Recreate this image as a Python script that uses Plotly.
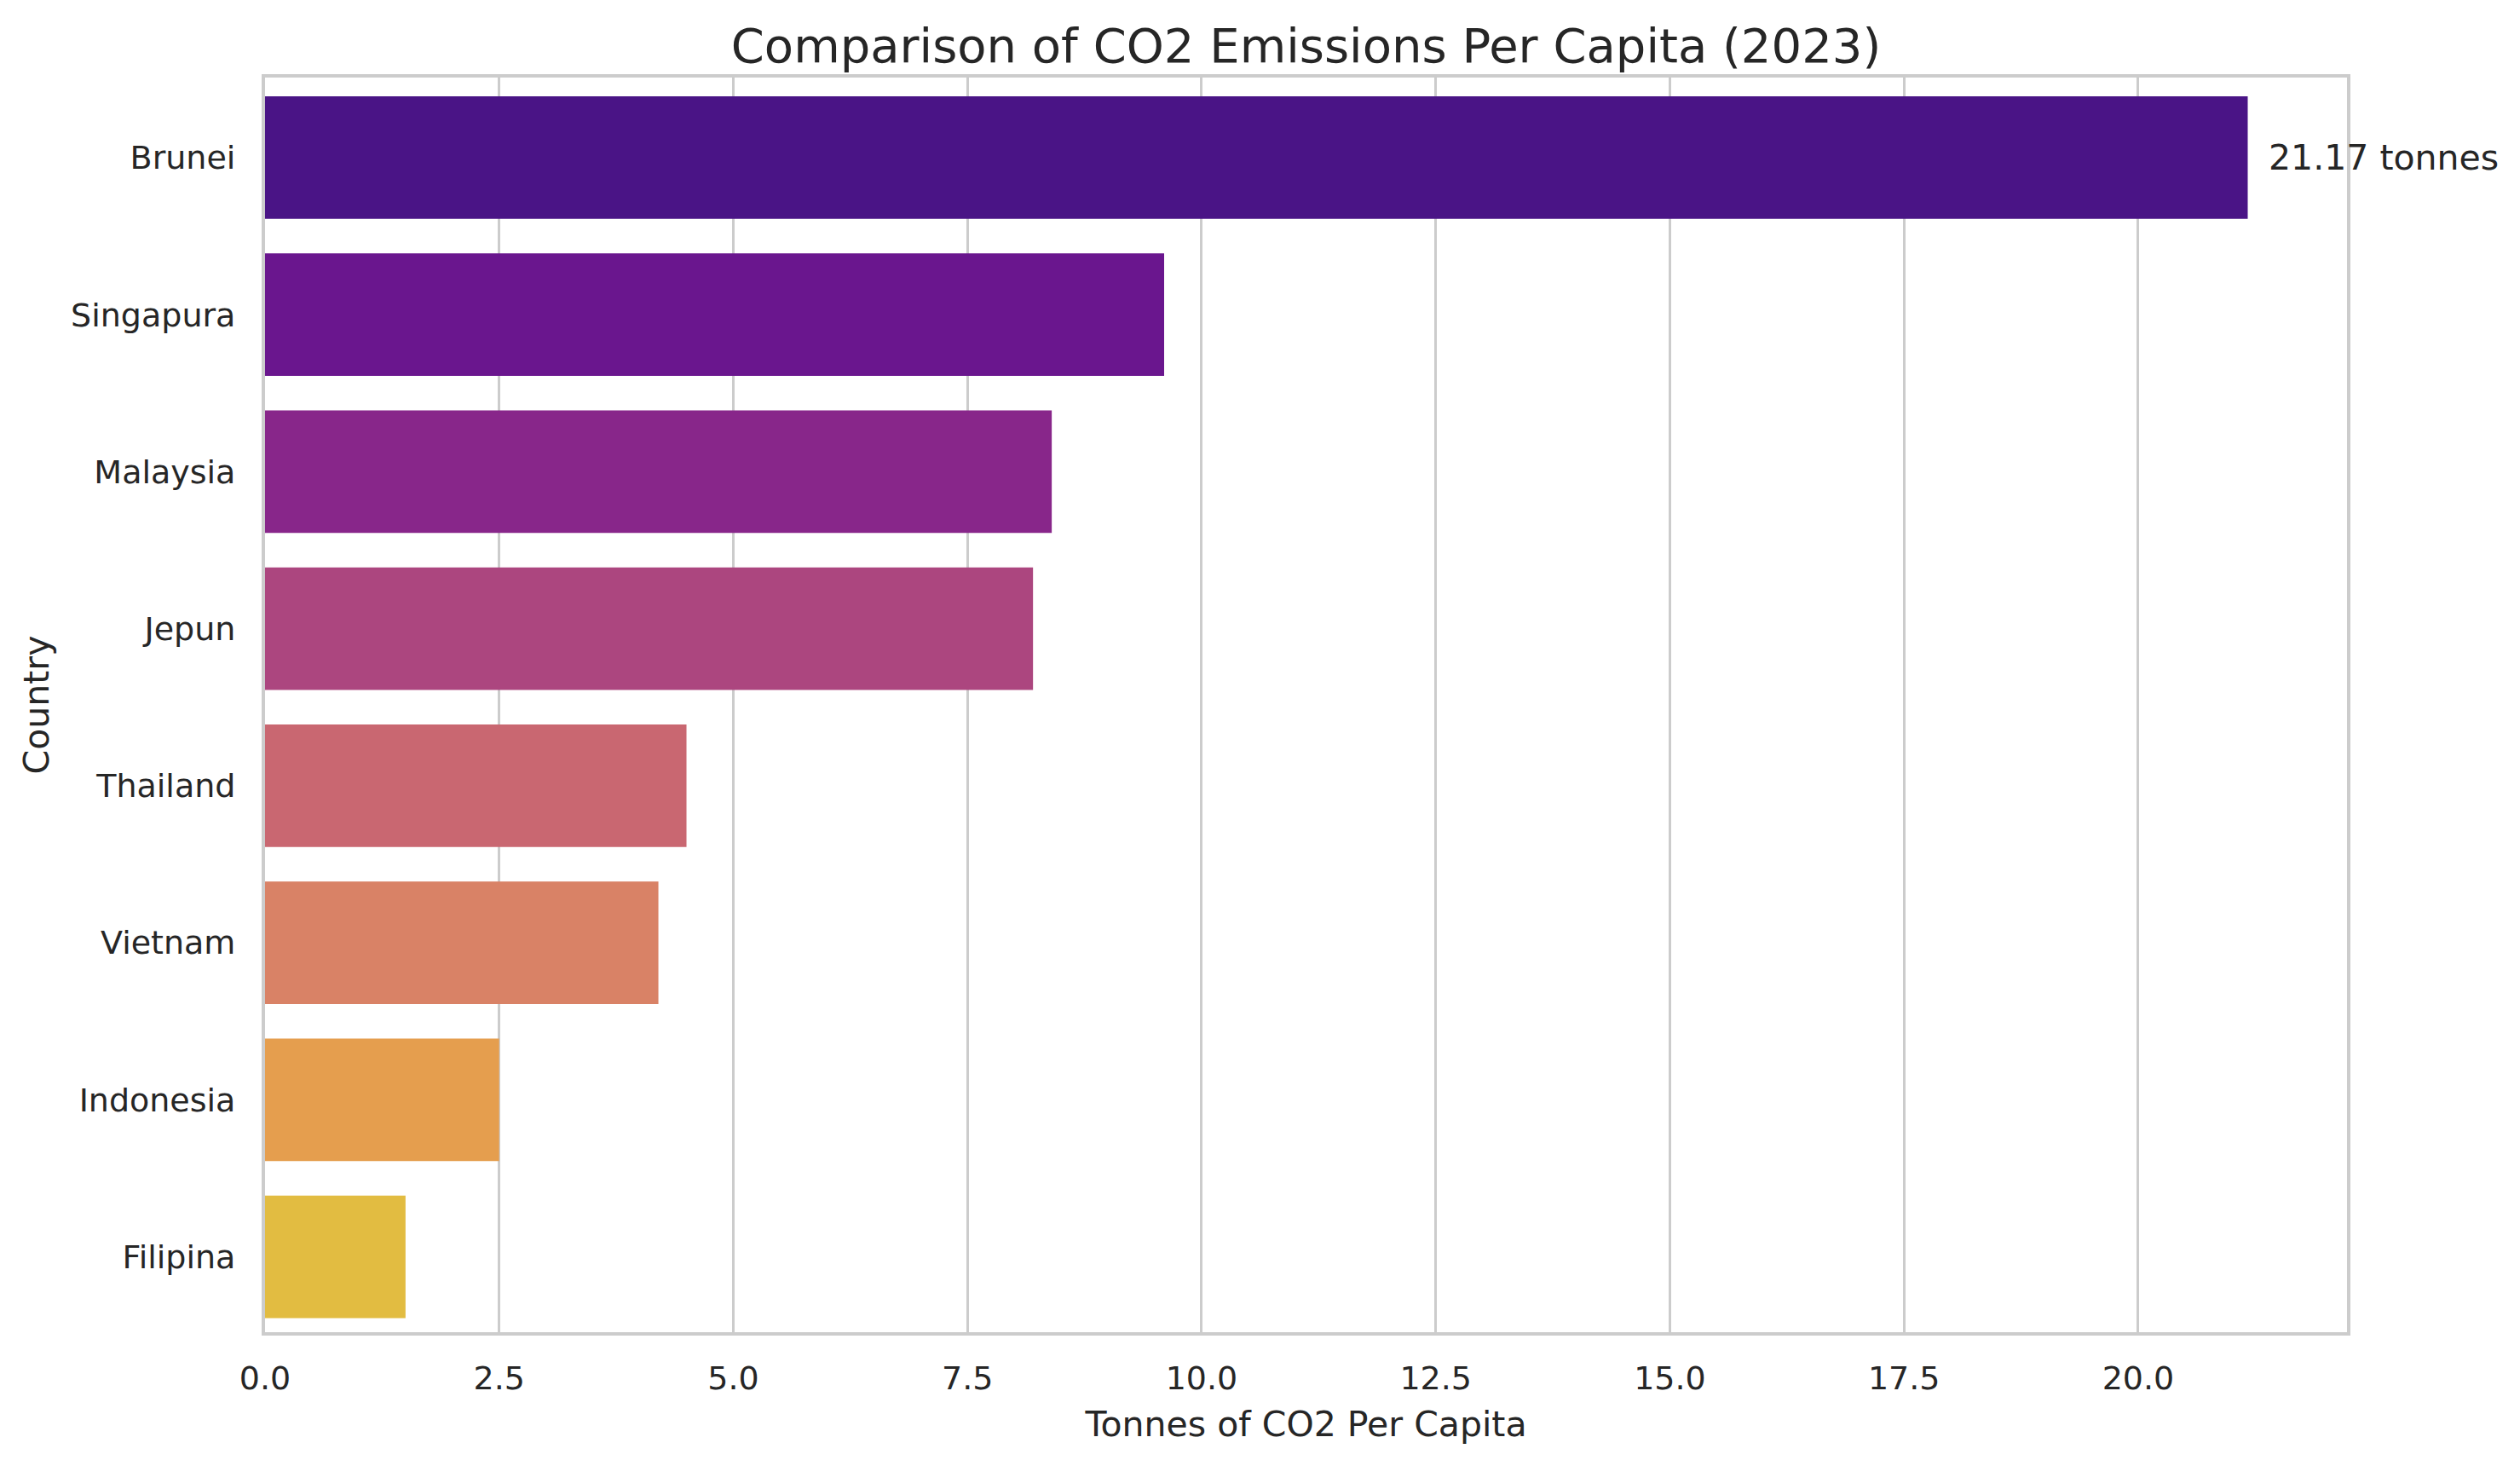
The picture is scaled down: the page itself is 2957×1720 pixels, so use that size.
import plotly.graph_objects as go

# ---- data ----
countries = ["Brunei", "Singapura", "Malaysia", "Jepun", "Thailand", "Vietnam", "Indonesia", "Filipina"]
co2_per_capita = [21.17, 9.6, 8.4, 8.2, 4.5, 4.2, 2.5, 1.5]
bar_colors = ["#4A1486", "#6A168E", "#88268A", "#AC467F", "#C96771", "#D98266", "#E59E4E", "#E2BC41"]
x_ticks = [0, 2.5, 5, 7.5, 10, 12.5, 15, 17.5, 20]
x_tick_labels = ["0.0", "2.5", "5.0", "7.5", "10.0", "12.5", "15.0", "17.5", "20.0"]

TEXT = "#262626"
GRID = "#cccccc"
FONT = "DejaVu Sans"

fig = go.Figure(
    go.Bar(
        x=co2_per_capita,
        y=countries,
        orientation="h",
        width=0.78,
        marker=dict(color=bar_colors, line=dict(width=0)),
        hoverinfo="x+y",
    )
)

# label on the largest bar
top_i = max(range(len(co2_per_capita)), key=lambda i: co2_per_capita[i])
fig.add_annotation(
    x=co2_per_capita[top_i], y=countries[top_i],
    text=f"{co2_per_capita[top_i]:.2f} tonnes",
    showarrow=False, xanchor="left", yanchor="middle", xshift=22,
    font=dict(family=FONT, size=41, color=TEXT),
)

fig.update_layout(
    template="none",
    width=2957, height=1720,
    margin=dict(l=311, r=203, t=91, b=157, autoexpand=False),
    paper_bgcolor="white", plot_bgcolor="white",
    font=dict(family=FONT, color=TEXT),
    showlegend=False,
    title=dict(
        text="Comparison of CO2 Emissions Per Capita (2023)",
        x=0.5, xref="paper", xanchor="center",
        y=1 - 53 / 1720, yref="container", yanchor="middle",
        font=dict(family=FONT, size=56, color=TEXT),
    ),
    xaxis=dict(
        range=[0, 22.23],
        tickvals=x_ticks, ticktext=x_tick_labels,
        tickfont=dict(family=FONT, size=38, color=TEXT),
        showgrid=True, gridcolor=GRID, gridwidth=3,
        zeroline=False,
        showline=True, linecolor=GRID, linewidth=4, mirror=True,
        ticks="", ticklabelstandoff=17,
        automargin=False,
        title=dict(text="Tonnes of CO2 Per Capita", font=dict(family=FONT, size=41, color=TEXT), standoff=20),
    ),
    yaxis=dict(
        categoryorder="array", categoryarray=countries,
        range=[len(countries) - 0.52, -0.51],
        tickfont=dict(family=FONT, size=38, color=TEXT),
        showgrid=False, zeroline=False,
        showline=True, linecolor=GRID, linewidth=4, mirror=True,
        ticks="", ticklabelstandoff=23,
        automargin=False,
        title=dict(text="Country", font=dict(family=FONT, size=41, color=TEXT), standoff=14),
    ),
)

fig.write_html(
    "out.html",
    config={"displayModeBar": False},
    post_script="document.body.style.margin='0';",
)
